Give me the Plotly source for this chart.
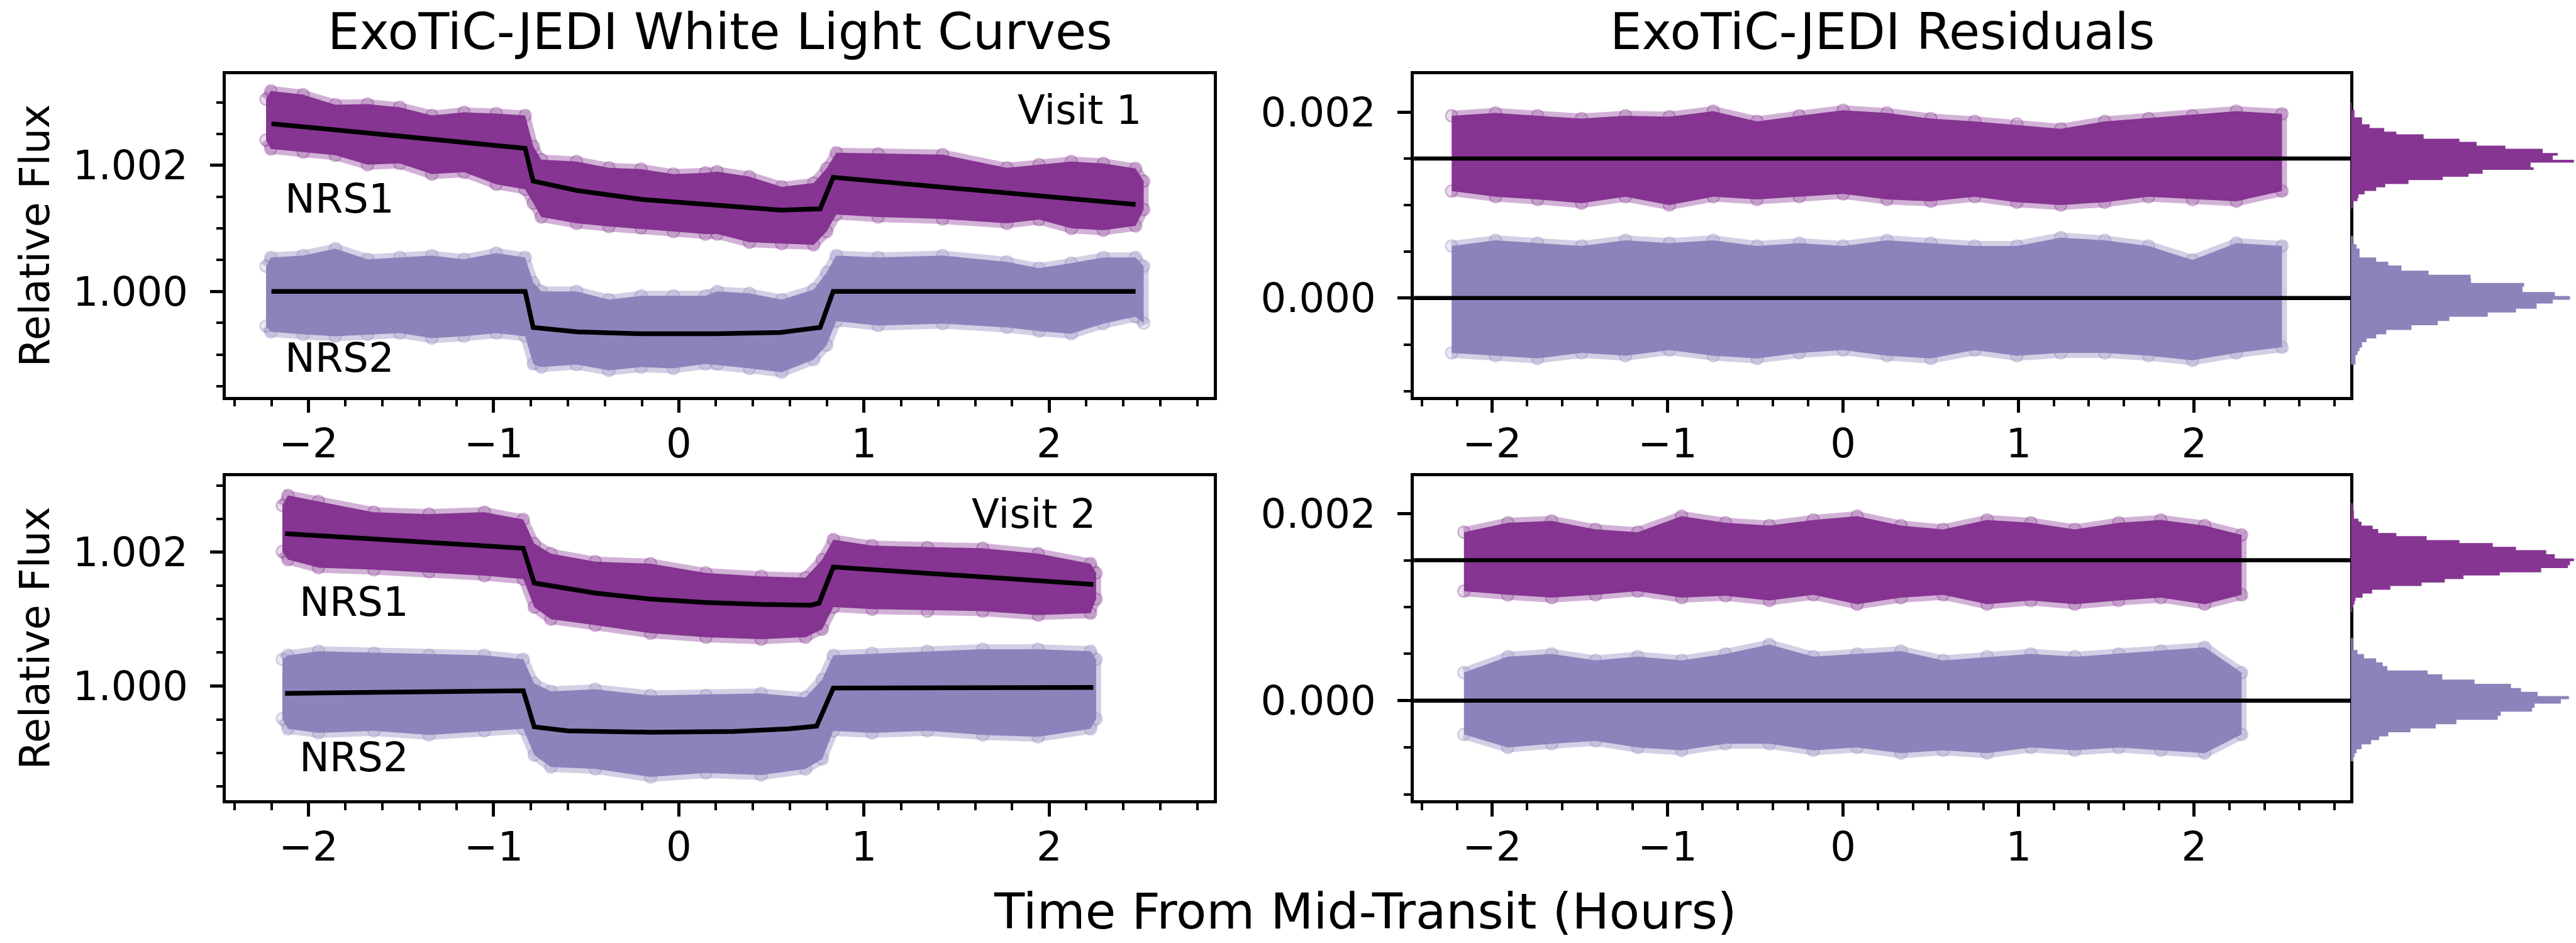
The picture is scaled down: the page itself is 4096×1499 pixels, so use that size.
import numpy as np
import plotly.graph_objects as go

# ---------------- data ----------------
# Visit 1 white light curve: envelope of the data cloud (upper / lower edge)
V1_T = [-2.229, -2.203, -2.029, -1.855, -1.681, -1.507, -1.334, -1.160, -0.986, -0.830,
        -0.786, -0.743, -0.552, -0.378, -0.204, -0.030, 0.143, 0.207, 0.381, 0.555,
        0.728, 0.798, 0.850, 1.076, 1.424, 1.771, 1.945, 2.119, 2.292, 2.466, 2.510]
V1_NRS1_HI = [1.00305, 1.00318, 1.00312, 1.00296, 1.00297, 1.00292, 1.00279, 1.00284, 1.00282, 1.00279,
              1.00230, 1.00209, 1.00206, 1.00196, 1.00194, 1.00186, 1.00188, 1.00190, 1.00182, 1.00166,
              1.00172, 1.00195, 1.00220, 1.00218, 1.00217, 1.00196, 1.00201, 1.00206, 1.00203, 1.00195, 1.00175]
V1_NRS1_LO = [1.00240, 1.00226, 1.00221, 1.00216, 1.00201, 1.00203, 1.00186, 1.00189, 1.00170, 1.00162,
              1.00140, 1.00118, 1.00108, 1.00103, 1.00101, 1.00095, 1.00091, 1.00091, 1.00078, 1.00076,
              1.00074, 1.00095, 1.00122, 1.00118, 1.00115, 1.00108, 1.00114, 1.00100, 1.00097, 1.00104, 1.00130]
V1_NRS2_HI = [1.00040, 1.00054, 1.00057, 1.00068, 1.00051, 1.00054, 1.00057, 1.00051, 1.00061, 1.00054,
              1.00014, 1.00000, 1.00000, 0.99987, 0.99993, 0.99993, 0.99993, 1.00000, 0.99997, 0.99987,
              1.00003, 1.00030, 1.00057, 1.00054, 1.00057, 1.00047, 1.00037, 1.00045, 1.00054, 1.00054, 1.00040]
V1_NRS2_LO = [0.99945, 0.99936, 0.99932, 0.99929, 0.99932, 0.99934, 0.99926, 0.99929, 0.99934, 0.99929,
              0.99885, 0.99880, 0.99884, 0.99875, 0.99880, 0.99878, 0.99885, 0.99885, 0.99878, 0.99872,
              0.99892, 0.99915, 0.99953, 0.99946, 0.99949, 0.99943, 0.99937, 0.99933, 0.99949, 0.99960, 0.99950]
# Visit 1 transit models
V1_MODEL_T = [-2.20, -0.83, -0.787, -0.55, -0.20, 0.20, 0.55, 0.763, 0.833, 2.466]
V1_NRS1_MODEL = [1.00266, 1.00227, 1.00175, 1.00160, 1.00146, 1.00137, 1.00129, 1.00131, 1.00181, 1.00138]
V1_NRS2_MODEL = [1.00000, 1.00000, 0.99943, 0.99936, 0.99933, 0.99933, 0.99935, 0.99943, 1.00000, 1.00000]

# Visit 2 white light curve
V2_T = [-2.141, -2.111, -1.946, -1.647, -1.349, -1.050, -0.840, -0.781, -0.691, -0.452,
        -0.153, 0.146, 0.445, 0.684, 0.774, 0.834, 1.043, 1.342, 1.641, 1.940, 2.223, 2.253]
V2_NRS1_HI = [1.00270, 1.00285, 1.00276, 1.00260, 1.00257, 1.00260, 1.00249, 1.00213, 1.00198, 1.00186,
              1.00183, 1.00169, 1.00164, 1.00162, 1.00189, 1.00219, 1.00210, 1.00207, 1.00206, 1.00198,
              1.00183, 1.00169]
V2_NRS1_LO = [1.00201, 1.00189, 1.00177, 1.00174, 1.00171, 1.00165, 1.00160, 1.00118, 1.00100, 1.00091,
              1.00079, 1.00073, 1.00070, 1.00073, 1.00085, 1.00118, 1.00115, 1.00112, 1.00112, 1.00106,
              1.00109, 1.00130]
V2_NRS2_HI = [1.00040, 1.00046, 1.00052, 1.00049, 1.00046, 1.00046, 1.00040, 1.00004, 0.99992, 0.99995,
              0.99986, 0.99986, 0.99989, 0.99983, 1.00010, 1.00046, 1.00049, 1.00052, 1.00055, 1.00055,
              1.00052, 1.00040]
V2_NRS2_LO = [0.99951, 0.99936, 0.99930, 0.99933, 0.99927, 0.99933, 0.99936, 0.99897, 0.99879, 0.99876,
              0.99864, 0.99870, 0.99867, 0.99876, 0.99891, 0.99933, 0.99930, 0.99933, 0.99927, 0.99924,
              0.99936, 0.99951]
V2_NRS1_MODEL_T = [-2.126, -0.840, -0.781, -0.452, -0.153, 0.146, 0.445, 0.714, 0.757, 0.834, 2.238]
V2_NRS1_MODEL = [1.00228, 1.00206, 1.00154, 1.00139, 1.00130, 1.00125, 1.00122, 1.00121, 1.00124, 1.00178, 1.00152]
V2_NRS2_MODEL_T = [-2.126, -0.840, -0.781, -0.601, -0.153, 0.295, 0.594, 0.744, 0.834, 2.238]
V2_NRS2_MODEL = [0.99989, 0.99993, 0.99939, 0.99933, 0.99931, 0.99932, 0.99936, 0.99940, 0.99997, 0.99998]

# Residuals, visit 1 (NRS1 offset by +0.0015)
R1_T = [-2.23, -1.98, -1.74, -1.49, -1.24, -0.99, -0.74, -0.49, -0.25, 0.00,
        0.25, 0.50, 0.75, 0.99, 1.24, 1.49, 1.74, 1.99, 2.24, 2.50]
R1_NRS1_HI = [0.00196, 0.00199, 0.00196, 0.00193, 0.00196, 0.00195, 0.00201, 0.00190, 0.00196, 0.00202,
              0.00199, 0.00193, 0.00190, 0.00187, 0.00182, 0.00190, 0.00193, 0.00196, 0.00201, 0.00198]
R1_NRS1_LO = [0.00115, 0.00109, 0.00106, 0.00102, 0.00109, 0.00100, 0.00109, 0.00106, 0.00109, 0.00112,
              0.00106, 0.00104, 0.00109, 0.00103, 0.00100, 0.00103, 0.00109, 0.00106, 0.00104, 0.00115]
R1_NRS2_HI = [0.00056, 0.00062, 0.00059, 0.00056, 0.00062, 0.00059, 0.00062, 0.00056, 0.00059, 0.00056,
              0.00062, 0.00059, 0.00056, 0.00056, 0.00065, 0.00062, 0.00056, 0.00041, 0.00059, 0.00056]
R1_NRS2_LO = [-0.00059, -0.00062, -0.00065, -0.00059, -0.00062, -0.00056, -0.00062, -0.00065, -0.00059, -0.00056,
              -0.00062, -0.00065, -0.00056, -0.00062, -0.00059, -0.00059, -0.00062, -0.00067, -0.00059, -0.00053]
# Residuals, visit 2
R2_T = [-2.16, -1.91, -1.66, -1.41, -1.17, -0.92, -0.67, -0.42, -0.17, 0.08,
        0.33, 0.57, 0.82, 1.07, 1.32, 1.57, 1.81, 2.06, 2.27]
R2_NRS1_HI = [0.00180, 0.00190, 0.00192, 0.00183, 0.00180, 0.00197, 0.00190, 0.00187, 0.00193, 0.00197,
              0.00187, 0.00183, 0.00193, 0.00190, 0.00183, 0.00190, 0.00193, 0.00187, 0.00177]
R2_NRS1_LO = [0.00117, 0.00113, 0.00110, 0.00113, 0.00117, 0.00110, 0.00112, 0.00107, 0.00113, 0.00103,
              0.00110, 0.00113, 0.00103, 0.00107, 0.00103, 0.00107, 0.00110, 0.00103, 0.00113]
R2_NRS2_HI = [0.00030, 0.00047, 0.00050, 0.00043, 0.00047, 0.00043, 0.00050, 0.00060, 0.00047, 0.00050,
              0.00053, 0.00043, 0.00047, 0.00050, 0.00047, 0.00050, 0.00053, 0.00057, 0.00030]
R2_NRS2_LO = [-0.00036, -0.00050, -0.00046, -0.00043, -0.00050, -0.00053, -0.00046, -0.00046, -0.00053, -0.00050,
              -0.00056, -0.00053, -0.00056, -0.00050, -0.00053, -0.00050, -0.00053, -0.00056, -0.00036]
RES_OFFSETS = [0.0015, 0.0]

# Residual histograms: bin edges and counts
H1_NRS1_EDGES = [0.002102, 0.002022, 0.001943, 0.001869, 0.001829, 0.00179, 0.00176, 0.001714, 0.00168,
                 0.001639, 0.001605, 0.001559, 0.001532, 0.001486, 0.001457, 0.001406, 0.001379, 0.001336,
                 0.001304, 0.001269, 0.001226, 0.00119, 0.001151, 0.001114, 0.001076, 0.001042, 0.000962]
H1_NRS1_COUNTS = [2, 7, 22, 37, 66, 90, 144, 215, 249, 306, 380, 410, 400, 442, 356, 362, 261, 233,
                  182, 114, 68, 50, 27, 15, 13, 4]
H1_NRS2_EDGES = [0.00067, 0.000578, 0.000533, 0.000437, 0.000391, 0.00035, 0.000295, 0.00025, 0.000209,
                 0.000163, 0.000122, 0.000065, 0.000022, -0.000019, -0.00006, -0.000115, -0.000156,
                 -0.000202, -0.000247, -0.000293, -0.000343, -0.000391, -0.000434, -0.000475, -0.000532,
                 -0.000571, -0.000612, -0.000715]
H1_NRS2_COUNTS = [4, 11, 17, 50, 74, 100, 154, 237, 238, 343, 340, 404, 434, 400, 368, 327, 271, 195,
                  172, 120, 70, 50, 31, 22, 17, 13, 9]
H2_NRS1_EDGES = [0.002109, 0.002029, 0.001943, 0.001911, 0.00187, 0.001832, 0.001791, 0.001757, 0.001716,
                 0.001684, 0.001643, 0.001607, 0.001564, 0.001519, 0.001491, 0.001446, 0.001417, 0.001371,
                 0.001337, 0.001298, 0.001262, 0.001224, 0.001185, 0.001144, 0.001099, 0.001065, 0.001026,
                 0.000997, 0.000945]
H2_NRS1_COUNTS = [4, 6, 15, 21, 43, 54, 90, 150, 215, 281, 327, 387, 404, 442, 434, 430, 377, 295,
                  223, 186, 140, 78, 42, 23, 9, 7, 5, 3]
H2_NRS2_EDGES = [0.000673, 0.000541, 0.000498, 0.000452, 0.000409, 0.000369, 0.000323, 0.000282, 0.000226,
                 0.00018, 0.000135, 0.000094, 0.000049, 0.000015, -0.000031, -0.000076, -0.000117, -0.00016,
                 -0.000205, -0.000251, -0.000296, -0.000337, -0.00038, -0.000421, -0.000466, -0.000519,
                 -0.000562, -0.000603, -0.000648]
H2_NRS2_COUNTS = [4, 13, 26, 50, 63, 72, 152, 181, 245, 317, 337, 370, 432, 416, 364, 359, 297, 291,
                  209, 168, 118, 74, 56, 40, 21, 11, 7, 5]

LABELS = ["NRS1", "NRS2"]
VISITS = ["Visit 1", "Visit 2"]
TITLES = ["ExoTiC-JEDI White Light Curves", "ExoTiC-JEDI Residuals"]
XLABEL = "Time From Mid-Transit (Hours)"
YLABEL = "Relative Flux"

# ---------------- styling ----------------
FONT = "DejaVu Sans"
C1 = (134, 53, 146)
C2 = (139, 132, 187)


def rgba(c, a):
    return "rgba(%d,%d,%d,%.3f)" % (c[0], c[1], c[2], a)


W, H = 4096, 1499
XR = [-2.445, 2.89]
YR_LC = [[0.99833, 1.003445], [0.998294, 1.00314]]
YR_RES = [[-0.001062, 0.002407], [-0.001062, 0.002399]]

XD_L = [448 / 5105, 2406 / 5105]
XD_R = [2802 / 5105, 4658 / 5105]
XD_H = [4659 / 5105, 1.0]
YD = [[1 - 786 / 1868, 1 - 147 / 1868], [1 - 1585 / 1868, 1 - 943 / 1868]]

TICKFS = 64
LW = 4.5

fig = go.Figure()


def band(t, hi, lo, c, xa, ya):
    x = list(t) + list(t)[::-1]
    y = list(hi) + list(lo)[::-1]
    fig.add_trace(go.Scatter(
        x=x, y=y, xaxis=xa, yaxis=ya, fill="toself", fillcolor=rgba(c, 1.0),
        mode="lines+markers", line=dict(color=rgba(c, 0.38), width=16, shape="linear"),
        marker=dict(size=19, color=rgba(c, 0.18), line=dict(color=rgba(c, 0.35), width=2.5)),
        hoverinfo="skip", showlegend=False))


def model(t, f, xa, ya):
    fig.add_trace(go.Scatter(x=t, y=f, xaxis=xa, yaxis=ya, mode="lines",
                             line=dict(color="black", width=7.5), hoverinfo="skip",
                             showlegend=False))


def hist(edges, counts, c, xa, ya):
    # step outline of a horizontal histogram, filled (no gaps between bins)
    xs, ys = [0], [edges[0]]
    for i, n in enumerate(counts):
        xs += [n, n]
        ys += [edges[i], edges[i + 1]]
    xs.append(0)
    ys.append(edges[-1])
    fig.add_trace(go.Scatter(x=xs, y=ys, fill="toself", fillcolor=rgba(c, 1.0), mode="lines",
                             line=dict(width=0, color=rgba(c, 1.0)),
                             xaxis=xa, yaxis=ya, hoverinfo="skip", showlegend=False))


# light curves
band(V1_T, V1_NRS1_HI, V1_NRS1_LO, C1, "x", "y")
band(V1_T, V1_NRS2_HI, V1_NRS2_LO, C2, "x", "y")
model(V1_MODEL_T, V1_NRS1_MODEL, "x", "y")
model(V1_MODEL_T, V1_NRS2_MODEL, "x", "y")

band(V2_T, V2_NRS1_HI, V2_NRS1_LO, C1, "x3", "y3")
band(V2_T, V2_NRS2_HI, V2_NRS2_LO, C2, "x3", "y3")
model(V2_NRS1_MODEL_T, V2_NRS1_MODEL, "x3", "y3")
model(V2_NRS2_MODEL_T, V2_NRS2_MODEL, "x3", "y3")

# residuals
band(R1_T, R1_NRS1_HI, R1_NRS1_LO, C1, "x2", "y2")
band(R1_T, R1_NRS2_HI, R1_NRS2_LO, C2, "x2", "y2")
band(R2_T, R2_NRS1_HI, R2_NRS1_LO, C1, "x4", "y4")
band(R2_T, R2_NRS2_HI, R2_NRS2_LO, C2, "x4", "y4")

# histograms
hist(H1_NRS1_EDGES, H1_NRS1_COUNTS, C1, "x5", "y5")
hist(H1_NRS2_EDGES, H1_NRS2_COUNTS, C2, "x5", "y5")
hist(H2_NRS1_EDGES, H2_NRS1_COUNTS, C1, "x6", "y6")
hist(H2_NRS2_EDGES, H2_NRS2_COUNTS, C2, "x6", "y6")


def xaxis_style(domain, anchor):
    return dict(domain=domain, anchor=anchor, range=XR, showgrid=False, zeroline=False,
                showline=True, mirror=True, linecolor="black", linewidth=LW,
                ticks="outside", ticklen=21, tickwidth=LW, tickcolor="black",
                tickmode="linear", tick0=0, dtick=1,
                minor=dict(ticks="outside", ticklen=11, tickwidth=LW * 0.8, tickcolor="black",
                           tick0=0, dtick=0.2),
                tickfont=dict(family=FONT, size=TICKFS, color="black"),
                ticklabelstandoff=-6, automargin=False)


def yaxis_style(domain, anchor, rng, t0):
    return dict(domain=domain, anchor=anchor, range=rng, showgrid=False, zeroline=False,
                showline=True, mirror=True, linecolor="black", linewidth=LW,
                ticks="outside", ticklen=21, tickwidth=LW, tickcolor="black",
                tickmode="linear", tick0=t0, dtick=0.002, tickformat=".3f",
                minor=dict(ticks="outside", ticklen=11, tickwidth=LW * 0.8, tickcolor="black",
                           tick0=t0, dtick=0.0005),
                tickfont=dict(family=FONT, size=TICKFS, color="black"),
                ticklabelstandoff=22, automargin=False)


def hist_x(domain, anchor):
    return dict(domain=domain, anchor=anchor, range=[0, 446], visible=False, showgrid=False,
                zeroline=False, fixedrange=True)


def hist_y(domain, anchor, rng):
    return dict(domain=domain, anchor=anchor, range=rng, visible=False, showgrid=False,
                zeroline=False)


layout = dict(
    width=W, height=H, margin=dict(l=0, r=0, t=0, b=0, pad=0),
    paper_bgcolor="white", plot_bgcolor="white", showlegend=False,
    xaxis=xaxis_style(XD_L, "y"), yaxis=yaxis_style(YD[0], "x", YR_LC[0], 1.0),
    xaxis2=xaxis_style(XD_R, "y2"), yaxis2=yaxis_style(YD[0], "x2", YR_RES[0], 0.0),
    xaxis3=xaxis_style(XD_L, "y3"), yaxis3=yaxis_style(YD[1], "x3", YR_LC[1], 1.0),
    xaxis4=xaxis_style(XD_R, "y4"), yaxis4=yaxis_style(YD[1], "x4", YR_RES[1], 0.0),
    xaxis5=hist_x(XD_H, "y5"), yaxis5=hist_y(YD[0], "x5", YR_RES[0]),
    xaxis6=hist_x(XD_H, "y6"), yaxis6=hist_y(YD[1], "x6", YR_RES[1]),
)
fig.update_layout(**layout)

# residual reference lines
shapes = []
for xr, yr in (("x2", "y2"), ("x4", "y4")):
    for off in RES_OFFSETS:
        shapes.append(dict(type="line", xref=xr + " domain", x0=0, x1=1, yref=yr, y0=off, y1=off,
                           line=dict(color="black", width=6.5), layer="above"))
fig.update_layout(shapes=shapes)

ann = []
TFS = 80
# titles (cap baseline ~ y=98/1868 of the figure)
for txt, xd in zip(TITLES, (XD_L, XD_R)):
    ann.append(dict(text=txt, x=(xd[0] + xd[1]) / 2, y=1 - (98 * 0.802 - 0.346 * TFS) / H,
                    xref="paper", yref="paper", xanchor="center", yanchor="middle",
                    showarrow=False, font=dict(family=FONT, size=TFS, color="black")))
# x label
XFS = 79
ann.append(dict(text=XLABEL, x=2706 / 5105, y=1 - (1476 - 0.346 * XFS) / H,
                xref="paper", yref="paper", xanchor="center", yanchor="middle",
                showarrow=False, font=dict(family=FONT, size=XFS, color="black")))
# y labels
for yd in YD:
    ann.append(dict(text=YLABEL, x=68.5 / 5105, y=(yd[0] + yd[1]) / 2, textangle=-90,
                    xref="paper", yref="paper", xanchor="center", yanchor="middle",
                    showarrow=False, font=dict(family=FONT, size=65, color="black")))
# panel texts (data coordinates)
PFS = 64
panel_text = [
    ("x", "y", VISITS[0], 1.823, 1.002873),
    ("x", "y", LABELS[0], -2.133, 1.00147),
    ("x", "y", LABELS[1], -2.133, 0.998945),
    ("x3", "y3", VISITS[1], 1.575, 1.00257),
    ("x3", "y3", LABELS[0], -2.057, 1.001257),
    ("x3", "y3", LABELS[1], -2.057, 0.998933),
]
for xr, yr, txt, xv, yv in panel_text:
    ann.append(dict(text=txt, x=xv, y=yv, xref=xr, yref=yr, xanchor="left", yanchor="middle",
                    showarrow=False, font=dict(family=FONT, size=PFS, color="black")))
fig.update_layout(annotations=ann)

fig.write_html("out.html")
